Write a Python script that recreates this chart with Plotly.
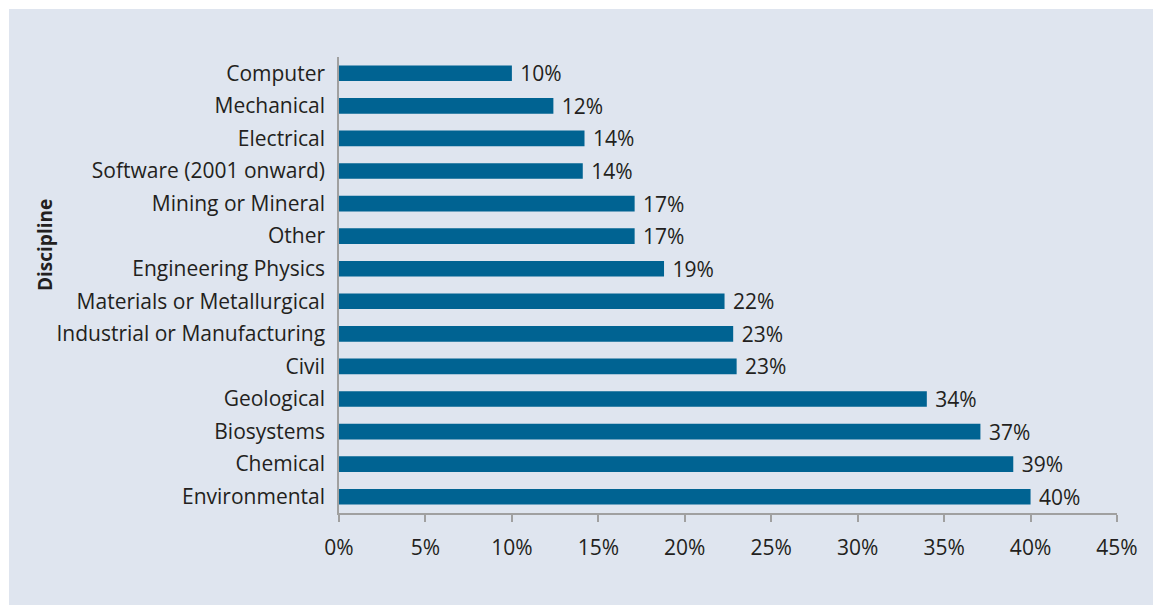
import plotly.graph_objects as go

disciplines = ["Computer", "Mechanical", "Electrical", "Software (2001 onward)",
               "Mining or Mineral", "Other", "Engineering Physics",
               "Materials or Metallurgical", "Industrial or Manufacturing", "Civil",
               "Geological", "Biosystems", "Chemical", "Environmental"]
percent = [10.0, 12.4, 14.2, 14.1, 17.1, 17.1, 18.8, 22.3, 22.8, 23.0, 34.0, 37.1, 39.0, 40.0]
value_labels = ["10%", "12%", "14%", "14%", "17%", "17%", "19%", "22%", "23%", "23%",
                "34%", "37%", "39%", "40%"]
x_ticks = [0, 5, 10, 15, 20, 25, 30, 35, 40, 45]
x_tick_labels = [f"{t}%" for t in x_ticks]

BG = "#dfe5ef"
BAR = "#006392"
AXIS = "#a0a0a0"
TXT = "#231f20"
FONT = "Open Sans"
FS = 21

W, H = 1153, 605
L, R, T, B = 339, 36, 57, 92
pw, ph = W - L - R, H - T - B

fig = go.Figure(go.Bar(
    x=percent, y=disciplines, orientation="h",
    marker=dict(color=BAR, line=dict(width=0)),
    width=0.48,
    text=value_labels, texttemplate=" %{text}", textposition="outside",
    constraintext="none",
    textfont=dict(family=FONT, size=FS, color=TXT),
    cliponaxis=False,
))

fig.update_layout(
    width=W, height=H,
    margin=dict(l=L, r=R, t=T, b=B, pad=0),
    paper_bgcolor="white",
    plot_bgcolor="rgba(0,0,0,0)",
    showlegend=False,
    font=dict(family=FONT, size=FS, color=TXT),
    xaxis=dict(range=[0, 45], tickvals=x_ticks, ticktext=x_tick_labels,
               showgrid=False, zeroline=False, showline=True, linecolor=AXIS,
               linewidth=1.5, ticks="outside", ticklen=7, tickcolor=AXIS,
               tickwidth=1.5, tickfont=dict(family=FONT, size=FS, color=TXT),
               ticklabelstandoff=8),
    yaxis=dict(categoryorder="array", categoryarray=disciplines,
               autorange="reversed", showgrid=False, zeroline=False,
               showline=True, linecolor=AXIS, linewidth=1.5, ticks="",
               tickfont=dict(family=FONT, size=FS, color=TXT),
               ticklabelstandoff=8),
    shapes=[dict(type="rect", xref="paper", yref="paper", layer="below",
                 x0=(9 - L) / pw, x1=(W + 5 - L) / pw,
                 y0=-(B + 5) / ph, y1=(H - B - 9) / ph,
                 fillcolor=BG, line=dict(width=0))],
    annotations=[dict(text="<b>Discipline</b>", textangle=-90,
                      xref="paper", yref="paper", x=(45 - L) / pw,
                      y=(H - B - 245) / ph, xanchor="center", yanchor="middle",
                      showarrow=False,
                      font=dict(family=FONT, size=19, color=TXT))],
)

fig.write_html("out.html")
